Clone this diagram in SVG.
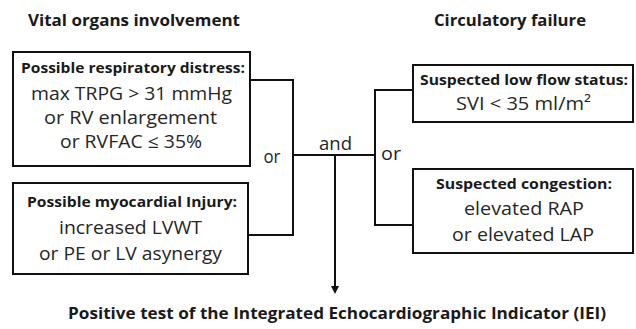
<svg xmlns="http://www.w3.org/2000/svg" width="636" height="329" viewBox="0 0 636 329">
<defs>
<style>
text{font-family:"Open Sans","Liberation Sans",sans-serif;fill:#1a1a1a;text-anchor:middle}
.h{font-weight:bold;font-size:16.5px}
.b{font-weight:bold;font-size:14.5px}
.n{font-size:18px;fill:#262626}
.box{fill:#fff;stroke:#111;stroke-width:2}
.ln{fill:none;stroke:#111;stroke-width:2}
</style>
</defs>
<rect width="636" height="329" fill="#fff"/>
<text class="h" x="134" y="26" textLength="212" lengthAdjust="spacingAndGlyphs">Vital organs involvement</text>
<text class="h" x="510" y="26" textLength="152" lengthAdjust="spacingAndGlyphs">Circulatory failure</text>
<g id="connectors">
<polyline class="ln" points="250,80 293,80 293,235 248,235"/>
<line class="ln" x1="293" y1="155" x2="375" y2="155"/>
<polyline class="ln" points="413,90 375,90 375,225 413,225"/>
<line class="ln" x1="335" y1="155" x2="335" y2="287"/>
<path d="M331,286 L339,286 L335,294 Z" fill="#111"/>
<text class="n" x="272" y="163" textLength="17" lengthAdjust="spacingAndGlyphs">or</text>
<text class="n" x="335.5" y="150" textLength="33" lengthAdjust="spacingAndGlyphs">and</text>
<text class="n" x="391" y="160" textLength="20" lengthAdjust="spacingAndGlyphs">or</text>
</g>
<g id="resp">
<rect class="box" x="13" y="52" width="237" height="114"/>
<text class="b" x="133" y="73" textLength="224" lengthAdjust="spacingAndGlyphs">Possible respiratory distress:</text>
<text class="n" x="131.5" y="100" textLength="201" lengthAdjust="spacingAndGlyphs">max TRPG &gt; 31 mmHg</text>
<text class="n" x="130.5" y="124" textLength="173" lengthAdjust="spacingAndGlyphs">or RV enlargement</text>
<text class="n" x="131" y="148" textLength="142" lengthAdjust="spacingAndGlyphs">or RVFAC ≤ 35%</text>
</g>
<g id="myo">
<rect class="box" x="13" y="183" width="235" height="91"/>
<text class="b" x="132" y="207" textLength="210" lengthAdjust="spacingAndGlyphs">Possible myocardial Injury:</text>
<text class="n" x="130.5" y="234" textLength="143" lengthAdjust="spacingAndGlyphs">increased LVWT</text>
<text class="n" x="130.5" y="260" textLength="183" lengthAdjust="spacingAndGlyphs">or PE or LV asynergy</text>
</g>
<g id="lowflow">
<rect class="box" x="413" y="65" width="220" height="57"/>
<text class="b" x="524" y="85" textLength="208" lengthAdjust="spacingAndGlyphs">Suspected low flow status:</text>
<text class="n" x="523.5" y="110" textLength="135" lengthAdjust="spacingAndGlyphs">SVI &lt; 35 ml/m²</text>
</g>
<g id="congestion">
<rect class="box" x="413" y="169" width="220" height="84"/>
<text class="b" x="524" y="189" textLength="176" lengthAdjust="spacingAndGlyphs">Suspected congestion:</text>
<text class="n" x="524" y="215" textLength="120" lengthAdjust="spacingAndGlyphs">elevated RAP</text>
<text class="n" x="523" y="241" textLength="142" lengthAdjust="spacingAndGlyphs">or elevated LAP</text>
</g>
<g id="result">
<text class="h" x="337" y="319" textLength="538" lengthAdjust="spacingAndGlyphs">Positive test of the Integrated Echocardiographic Indicator (IEI)</text>
</g>
</svg>
